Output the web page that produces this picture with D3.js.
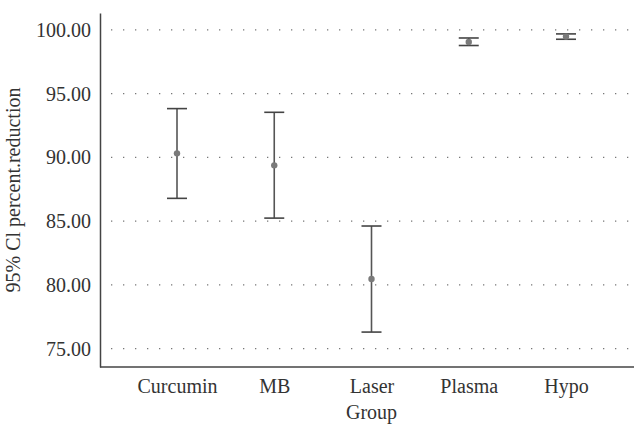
<!DOCTYPE html>
<html>
<head>
<meta charset="utf-8">
<script src="https://cdn.jsdelivr.net/npm/d3@7"></script>
<style>
  body { margin: 0; background: #fff; }
</style>
</head>
<body>
<div id="chart"></div>
<script>
const groups = ['Curcumin', 'MB', 'Laser', 'Plasma', 'Hypo']
const means = [90.32, 89.38, 80.46, 99.06, 99.48]
const lower = [86.79, 85.24, 76.3, 98.78, 99.27]
const upper = [93.83, 93.54, 84.62, 99.37, 99.69]
const yTicks = [75, 80, 85, 90, 95, 100]

const FONT = "'Liberation Serif', 'Times New Roman', serif"
const W = 634
const H = 424
const margin = { top: 13, left: 100, right: 0, bottom: 57 }
const height = H - margin.top - margin.bottom
const width = W - margin.left - margin.right

const svg = d3
  .select('#chart')
  .append('svg')
  .attr('width', W)
  .attr('height', H)
  .append('g')
  .attr('transform', 'translate(' + margin.left + ',' + margin.top + ')')

const xPositionScale = d3
  .scalePoint()
  .domain(groups)
  .range([77, 466])

const yPositionScale = d3
  .scaleLinear()
  .domain([73.56, 101.33])
  .range([height, 0])

// dotted gridlines
svg
  .selectAll('.grid')
  .data(yTicks)
  .enter()
  .append('line')
  .attr('class', 'grid')
  .attr('x1', 11)
  .attr('x2', width)
  .attr('y1', d => yPositionScale(d))
  .attr('y2', d => yPositionScale(d))
  .attr('stroke', '#777')
  .attr('stroke-width', 1.3)
  .attr('stroke-dasharray', '1.3,10.7')

function styleText(sel) {
  sel
    .style('font-family', FONT)
    .style('font-size', '20px')
    .style('fill', '#333')
}

const yAxis = d3
  .axisLeft(yPositionScale)
  .tickValues(yTicks)
  .tickFormat(d3.format('.2f'))
  .tickSize(0)
  .tickPadding(9)
svg
  .append('g')
  .attr('class', 'axis y-axis')
  .call(yAxis)
  .call(g => g.select('.domain').attr('stroke', '#444').attr('stroke-width', 1.5))
  .call(g => g.selectAll('text').call(styleText))

const xAxis = d3.axisBottom(xPositionScale).tickSize(0).tickPadding(12)
svg
  .append('g')
  .attr('class', 'axis x-axis')
  .attr('transform', 'translate(0,' + height + ')')
  .call(xAxis)
  .call(g => g.select('.domain').attr('d', 'M0,0H' + width).attr('stroke', '#444').attr('stroke-width', 1.5))
  .call(g => g.selectAll('text').call(styleText))

const rows = groups.map((g, i) => ({ g, m: means[i], lo: lower[i], hi: upper[i] }))

const bars = svg.selectAll('.ci').data(rows).enter().append('g').attr('class', 'ci')

bars
  .append('line')
  .attr('x1', d => xPositionScale(d.g))
  .attr('x2', d => xPositionScale(d.g))
  .attr('y1', d => yPositionScale(d.lo))
  .attr('y2', d => yPositionScale(d.hi))
  .attr('stroke', '#555')
  .attr('stroke-width', 1.6)

bars
  .selectAll('.cap')
  .data(d => [d.lo, d.hi].map(v => ({ g: d.g, v })))
  .enter()
  .append('line')
  .attr('class', 'cap')
  .attr('x1', d => xPositionScale(d.g) - 10)
  .attr('x2', d => xPositionScale(d.g) + 10)
  .attr('y1', d => yPositionScale(d.v))
  .attr('y2', d => yPositionScale(d.v))
  .attr('stroke', '#444')
  .attr('stroke-width', 1.6)

bars
  .append('circle')
  .attr('cx', d => xPositionScale(d.g))
  .attr('cy', d => yPositionScale(d.m))
  .attr('r', 3.2)
  .attr('fill', '#7a7a7a')

svg
  .append('text')
  .attr('x', xPositionScale('Laser'))
  .attr('y', height + 52)
  .attr('text-anchor', 'middle')
  .call(styleText)
  .text('Group')

svg
  .append('text')
  .attr('transform', 'translate(' + (-80) + ',' + height / 2 + ') rotate(-90)')
  .attr('text-anchor', 'middle')
  .call(styleText)
  .text('95% Cl percent.reduction')
</script>
</body>
</html>
